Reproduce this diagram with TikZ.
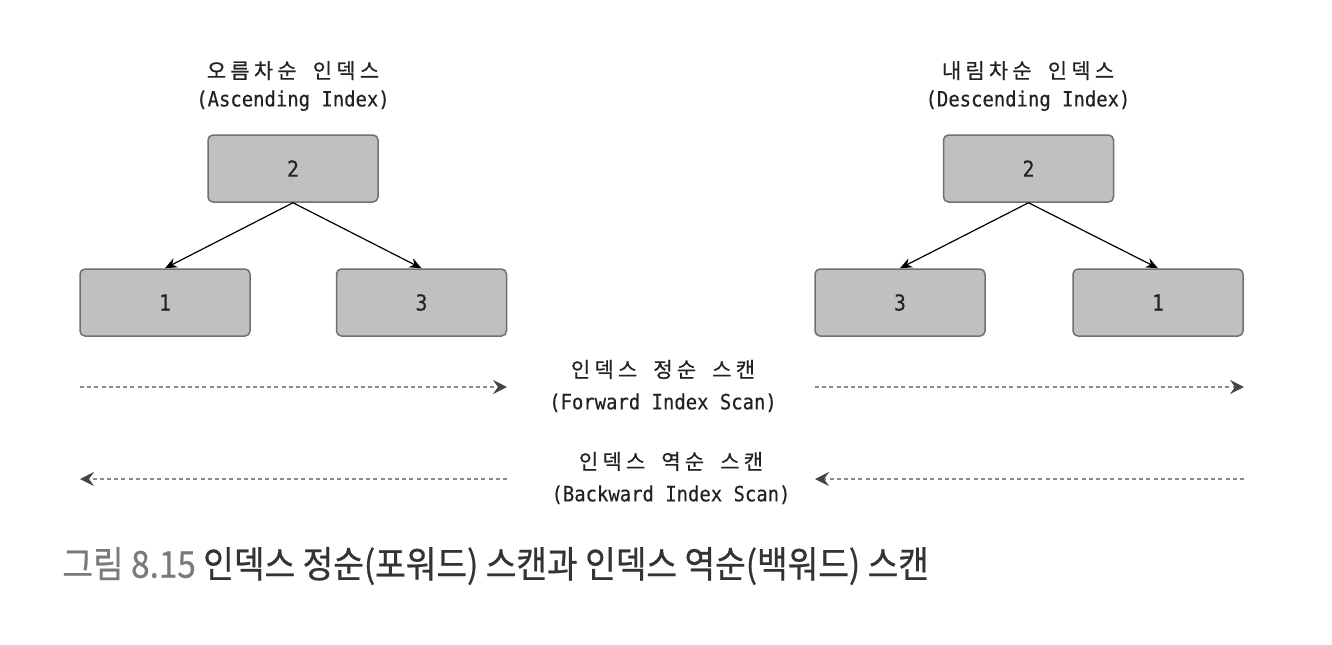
\documentclass[tikz,border=0pt]{standalone}
\usepackage{fontspec}
\setmainfont{Noto Sans CJK KR}
\newfontfamily\krf[LetterSpace=20,WordSpace=1.8,FakeBold=0.6]{Noto Sans CJK KR}
\newfontfamily\monof[FakeStretch=0.9,FakeBold=0.4]{DejaVu Sans Mono}
\newfontfamily\capfont[FakeStretch=0.9,FakeBold=0.6]{Noto Sans CJK KR}
\usetikzlibrary{arrows.meta}
\definecolor{boxfill}{HTML}{C0C0C0}
\definecolor{boxline}{HTML}{707070}
\definecolor{txt}{HTML}{222222}
\definecolor{dashc}{HTML}{8A8A8A}
\definecolor{headc}{HTML}{454545}
\definecolor{capgray}{HTML}{7A7A7A}
\definecolor{capdark}{HTML}{333333}
\begin{document}
\begin{tikzpicture}[x=0.5pt,y=-0.5pt,
  keybox/.style={draw=boxline,fill=boxfill,line width=0.75pt,rounded corners=2.5pt,
    minimum width=85pt,minimum height=33.5pt,inner sep=0pt,text=txt,
    font=\monof\fontsize{11}{12}\selectfont},
  titlelbl/.style={align=center,text=txt,inner sep=0pt,font=\fontsize{10.5}{14}\selectfont},
  scanlbl/.style={align=center,text=txt,inner sep=0pt,font=\fontsize{10.5}{16}\selectfont},
  tree/.style={draw=black,line width=0.6pt,-{Stealth[length=6pt,width=5pt]}},
  scan/.style={draw=dashc,line width=0.8pt,dash pattern=on 2pt off 1.6pt,
    -{Stealth[length=7pt,width=7pt,color=headc,inset=2.5pt]}}
]
\useasboundingbox (0,0) rectangle (1332,644);

% Left tree (ascending)
\node[titlelbl] (lt) at (293,86) {{\krf 오름차순 인덱스}\\{\monof (Ascending Index)}};
\node[keybox] (la) at (293,168.5) {2};
\node[keybox] (lb) at (165,302.5) {1};
\node[keybox] (lc) at (421.5,302.5) {3};
\draw[tree] (la.south) -- (lb.north);
\draw[tree] (la.south) -- (lc.north);

% Right tree (descending)
\node[titlelbl] (rt) at (1028,86) {{\krf 내림차순 인덱스}\\{\monof (Descending Index)}};
\node[keybox] (ra) at (1028.5,168.5) {2};
\node[keybox] (rb) at (900,302.5) {3};
\node[keybox] (rc) at (1158,302.5) {1};
\draw[tree] (ra.south) -- (rb.north);
\draw[tree] (ra.south) -- (rc.north);

% Forward scan
\coordinate (f1s) at (80,387);
\coordinate (f1e) at (507,387);
\coordinate (f2s) at (815,387);
\coordinate (f2e) at (1244,387);
\draw[scan] (f1s) -- (f1e);
\draw[scan] (f2s) -- (f2e);
\node[scanlbl] (fl) at (663,386) {{\krf 인덱스 정순 스캔}\\{\monof (Forward Index Scan)}};

% Backward scan
\coordinate (b1s) at (507,479);
\coordinate (b1e) at (80,479);
\coordinate (b2s) at (1244,479);
\coordinate (b2e) at (815,479);
\draw[scan] (b1s) -- (b1e);
\draw[scan] (b2s) -- (b2e);
\node[scanlbl] (bl) at (671,478) {{\krf 인덱스 역순 스캔}\\{\monof (Backward Index Scan)}};

% Caption
\node[anchor=west,inner sep=0pt,font=\capfont\fontsize{18.5}{20}\selectfont] (cap) at (62,566)
  {\textcolor{capgray}{그림 8.15}\ \textcolor{capdark}{인덱스 정순(포워드) 스캔과 인덱스 역순(백워드) 스캔}};
\end{tikzpicture}
\end{document}
